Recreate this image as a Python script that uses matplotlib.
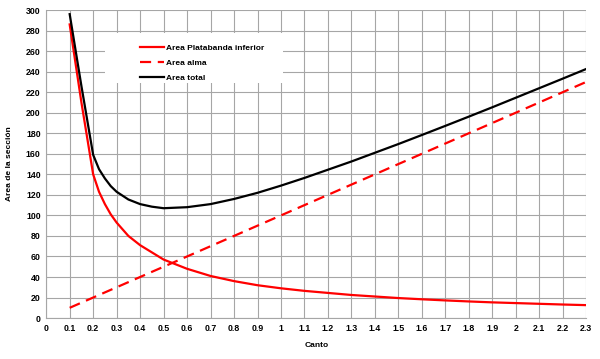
import matplotlib
matplotlib.use("Agg")
import matplotlib.pyplot as plt
from matplotlib.patches import Rectangle
import numpy as np

# canto values (x) and areas
canto = [0.1, 0.15, 0.2, 0.225, 0.25, 0.275, 0.3, 0.35, 0.4, 0.45, 0.5, 0.6, 0.7, 0.8, 0.9, 1.0,
         1.1, 1.2, 1.3, 1.4, 1.5, 1.6, 1.7, 1.8, 1.9, 2.0, 2.1, 2.2, 2.3]
area_plat = [286, 210, 140, 123, 111, 101, 93, 80, 71, 64, 57, 48, 41, 36, 32, 29,
             26.5, 24.5, 22.5, 21, 19.5, 18.3, 17.2, 16.2, 15.3, 14.6, 13.9, 13.2, 12.6]
area_total = [296, 226, 159, 145, 136, 128.5, 123, 115.5, 111, 108.5, 107, 108, 111, 116, 122, 129,
              136.5, 144.5, 152.5, 161, 169.5, 178.3, 187.2, 196.2, 205.3, 214.6, 223.9, 233.2, 242.6]

canto_alma = [0.1, 0.2, 0.3, 0.4, 0.5, 0.6, 0.7, 0.8, 0.9, 1.0, 1.1, 1.2,
              1.3, 1.4, 1.5, 1.6, 1.7, 1.8, 1.9, 2.0, 2.1, 2.2, 2.3]
area_alma = [10, 20, 30, 40, 50, 60, 70, 80, 90, 100, 110, 120,
             130, 140, 150, 160, 170, 180, 190, 200, 210, 220, 230]

xticks = [0, 0.1, 0.2, 0.3, 0.4, 0.5, 0.6, 0.7, 0.8, 0.9, 1, 1.1, 1.2,
          1.3, 1.4, 1.5, 1.6, 1.7, 1.8, 1.9, 2, 2.1, 2.2, 2.3]
xlabels = ["0", "0.1", "0.2", "0.3", "0.4", "0.5", "0.6", "0.7", "0.8", "0.9", "1",
           "1.1", "1.2", "1.3", "1.4", "1.5", "1.6", "1.7", "1.8", "1.9", "2",
           "2.1", "2.2", "2.3"]

plt.rcParams['font.family'] = ['Liberation Sans', 'DejaVu Sans']
plt.rcParams['font.weight'] = 'bold'

fig = plt.figure(figsize=(6.0, 3.59), dpi=100)
ax = fig.add_axes([0.077, 0.114, 0.9, 0.858])

ax.plot(canto, area_plat, color='#ff0000', lw=1.6, label='Area Platabanda inferior')
ax.plot(canto_alma, area_alma, color='#ff0000', lw=1.6, ls=(0, (5, 3)), label='Area alma')
ax.plot(canto, area_total, color='black', lw=1.6, label='Area total')

ax.set_xlim(0, 2.3)
ax.set_ylim(0, 300)
ax.set_xticks(xticks)
ax.set_xticklabels(xlabels)
ax.set_yticks(np.arange(0, 301, 20))
ax.tick_params(labelsize=6.3, length=0, pad=4)
ax.grid(True, color='#a6a6a6', lw=0.8)
ax.set_axisbelow(True)
for s in ax.spines.values():
    s.set_visible(False)
ax.spines['left'].set_visible(True)
ax.spines['bottom'].set_visible(True)
ax.spines['left'].set_color('#a6a6a6')
ax.spines['bottom'].set_color('#a6a6a6')

ax.set_xlabel('Canto', fontsize=6, fontweight='bold', labelpad=7)
ax.set_ylabel('Area de la sección', fontsize=6, fontweight='bold', labelpad=9)

# white legend area (covers the grid like the original)
ax.add_patch(Rectangle((0.109, 0.763), 0.33, 0.162, transform=ax.transAxes,
                       facecolor='white', edgecolor='none', zorder=1))
leg = ax.legend(loc='upper left', bbox_to_anchor=(0.174, 0.89), fontsize=6,
                frameon=False, handlelength=2.9, handletextpad=0.2,
                labelspacing=0.85, borderpad=0, borderaxespad=0)

fig.savefig('out.png', dpi=100)
